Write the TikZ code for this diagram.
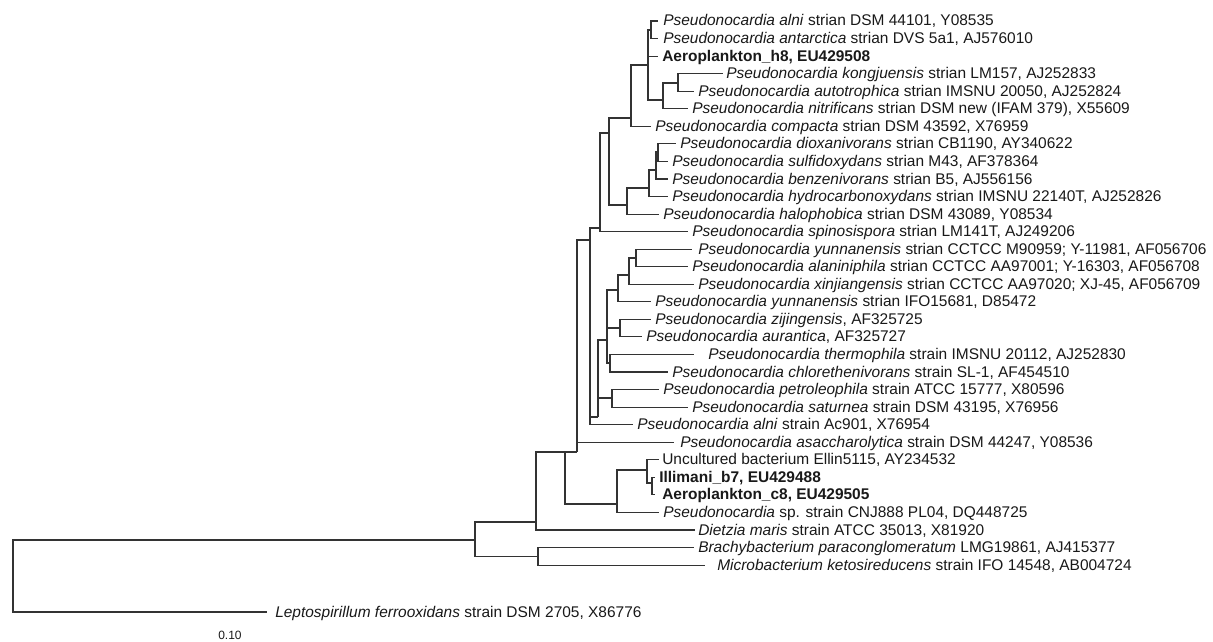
\documentclass[tikz,border=0pt]{standalone}
\usepackage{fontspec}
\setmainfont{Liberation Sans}
\newcommand{\lf}[5]{\coordinate (#1) at (#2,#4); \node[lab] (#1l) at (#3,#4+5) {#5};}
\begin{document}
\begin{tikzpicture}[x=0.75pt,y=-0.75pt,
  br/.style={draw=black!80, line width=0.8pt},
  lab/.style={anchor=base west, inner sep=0pt, text=black!90, font=\fontsize{11.6}{13}\selectfont}]
\useasboundingbox[fill=white] (0,0) rectangle (1213,642);
% leaves
\lf{t0}{658}{663}{21.0}{\textit{Pseudonocardia alni} strian DSM 44101, Y08535}
\lf{t1}{658}{663}{38.6}{\textit{Pseudonocardia antarctica} strian DVS 5a1, AJ576010}
\lf{t2}{658}{662}{56.1}{\textbf{Aeroplankton\_h8, EU429508}}
\lf{t3}{723}{726}{73.7}{\textit{Pseudonocardia kongjuensis} strian LM157, AJ252833}
\lf{t4}{694}{698}{91.2}{\textit{Pseudonocardia autotrophica} strian IMSNU 20050, AJ252824}
\lf{t5}{688}{692}{108.8}{\textit{Pseudonocardia nitrificans} strian DSM new (IFAM 379), X55609}
\lf{t6}{651}{655}{126.3}{\textit{Pseudonocardia compacta} strian DSM 43592, X76959}
\lf{t7}{676}{680}{143.9}{\textit{Pseudonocardia dioxanivorans} strian CB1190, AY340622}
\lf{t8}{668}{672}{161.4}{\textit{Pseudonocardia sulfidoxydans} strian M43, AF378364}
\lf{t9}{668}{672}{179.0}{\textit{Pseudonocardia benzenivorans} strian B5, AJ556156}
\lf{t10}{668}{672}{196.5}{\textit{Pseudonocardia hydrocarbonoxydans} strian IMSNU 22140T, AJ252826}
\lf{t11}{659}{663}{214.1}{\textit{Pseudonocardia halophobica} strian DSM 43089, Y08534}
\lf{t12}{688}{692}{231.6}{\textit{Pseudonocardia spinosispora} strian LM141T, AJ249206}
\lf{t13}{692}{698}{249.2}{\textit{Pseudonocardia yunnanensis} strian CCTCC M90959; Y-11981, AF056706}
\lf{t14}{688}{692}{266.7}{\textit{Pseudonocardia alaniniphila} strian CCTCC AA97001; Y-16303, AF056708}
\lf{t15}{694}{698}{284.3}{\textit{Pseudonocardia xinjiangensis} strian CCTCC AA97020; XJ-45, AF056709}
\lf{t16}{651}{655}{301.8}{\textit{Pseudonocardia yunnanensis} strian IFO15681, D85472}
\lf{t17}{651}{655}{319.4}{\textit{Pseudonocardia zijingensis}, AF325725}
\lf{t18}{642}{646}{336.9}{\textit{Pseudonocardia aurantica}, AF325727}
\lf{t19}{694}{708}{354.5}{\textit{Pseudonocardia thermophila} strain IMSNU 20112, AJ252830}
\lf{t20}{668}{672}{372.0}{\textit{Pseudonocardia chlorethenivorans} strain SL-1, AF454510}
\lf{t21}{659}{663}{389.6}{\textit{Pseudonocardia petroleophila} strain ATCC 15777, X80596}
\lf{t22}{688}{692}{407.1}{\textit{Pseudonocardia saturnea} strain DSM 43195, X76956}
\lf{t23}{633}{637}{424.7}{\textit{Pseudonocardia alni} strain Ac901, X76954}
\lf{t24}{674}{680}{442.2}{\textit{Pseudonocardia asaccharolytica} strain DSM 44247, Y08536}
\lf{t25}{659}{662}{459.8}{Uncultured bacterium Ellin5115, AY234532}
\lf{t26}{655}{659}{477.3}{\textbf{Illimani\_b7, EU429488}}
\lf{t27}{655}{662}{494.9}{\textbf{Aeroplankton\_c8, EU429505}}
\lf{t28}{659}{663}{512.4}{\textit{Pseudonocardia} sp. strain CNJ888 PL04, DQ448725}
\lf{t29}{695}{698}{530.0}{\textit{Dietzia maris} strain ATCC 35013, X81920}
\lf{t30}{694}{698}{547.5}{\textit{Brachybacterium paraconglomeratum} LMG19861, AJ415377}
\lf{t31}{705}{717}{565.1}{\textit{Microbacterium ketosireducens} strain IFO 14548, AB004724}
\lf{tL}{267}{275}{612.0}{\textit{Leptospirillum ferrooxidans} strain DSM 2705, X86776}
\node[lab, font=\fontsize{9}{11}\selectfont] (scale) at (218,639) {0.10};
% internal nodes
\coordinate (root) at (13,576);
\coordinate (n475) at (475,540);
\coordinate (n538) at (538,556.3);
\coordinate (n536) at (536,522);
\coordinate (n565) at (565,452);
\coordinate (n617) at (617,504);
\coordinate (n647) at (647,470);
\coordinate (n652) at (652,483);
\coordinate (n577) at (577,452);
\coordinate (n590) at (590,240);
\coordinate (n600) at (600,228);
\coordinate (n609) at (609,133);
\coordinate (n631) at (631,118);
\coordinate (n648) at (648,65);
\coordinate (n651) at (651,30);
\coordinate (n663) at (663,100);
\coordinate (n678) at (678,83);
\coordinate (n627) at (627,205);
\coordinate (n649) at (649,188);
\coordinate (n656) at (656,170);
\coordinate (n658) at (658,152);
\coordinate (n598) at (598,417);
\coordinate (n612) at (612,398);
\coordinate (n607) at (607,340);
\coordinate (n610) at (610,363);
\coordinate (n620) at (620,328);
\coordinate (n618) at (618,290);
\coordinate (n629) at (629,275);
\coordinate (n636) at (636,258);
% connectors
\draw[br] (root) |- (n475);
\draw[br] (root) |- (tL);
\draw[br] (n475) |- (n536);
\draw[br] (n475) |- (n538);
\draw[br] (n538) |- (t30);
\draw[br] (n538) |- (t31);
\draw[br] (n536) |- (n565);
\draw[br] (n536) |- (t29);
\draw[br] (n565) |- (n577);
\draw[br] (n565) |- (n617);
\draw[br] (n617) |- (n647);
\draw[br] (n617) |- (t28);
\draw[br] (n647) |- (t25);
\draw[br] (n647) |- (n652);
\draw[br] (n652) |- (t26);
\draw[br] (n652) |- (t27);
\draw[br] (n577) |- (n590);
\draw[br] (n577) |- (t24);
\draw[br] (n590) |- (n600);
\draw[br] (n590) |- (n598);
\draw[br] (n590) |- (t23);
\draw[br] (n600) |- (n609);
\draw[br] (n600) |- (t12);
\draw[br] (n609) |- (n631);
\draw[br] (n609) |- (n627);
\draw[br] (n631) |- (n648);
\draw[br] (n631) |- (t6);
\draw[br] (n648) |- (n651);
\draw[br] (n648) |- (t2);
\draw[br] (n648) |- (n663);
\draw[br] (n651) |- (t0);
\draw[br] (n651) |- (t1);
\draw[br] (n663) |- (n678);
\draw[br] (n663) |- (t5);
\draw[br] (n678) |- (t3);
\draw[br] (n678) |- (t4);
\draw[br] (n627) |- (n649);
\draw[br] (n627) |- (t11);
\draw[br] (n649) |- (n656);
\draw[br] (n649) |- (t10);
\draw[br] (n656) |- (n658);
\draw[br] (n656) |- (t9);
\draw[br] (n658) |- (t7);
\draw[br] (n658) |- (t8);
\draw[br] (n598) |- (n607);
\draw[br] (n598) |- (n612);
\draw[br] (n612) |- (t21);
\draw[br] (n612) |- (t22);
\draw[br] (n607) |- (n618);
\draw[br] (n607) |- (n620);
\draw[br] (n607) |- (n610);
\draw[br] (n610) |- (t19);
\draw[br] (n610) |- (t20);
\draw[br] (n620) |- (t17);
\draw[br] (n620) |- (t18);
\draw[br] (n618) |- (n629);
\draw[br] (n618) |- (t16);
\draw[br] (n629) |- (n636);
\draw[br] (n629) |- (t15);
\draw[br] (n636) |- (t13);
\draw[br] (n636) |- (t14);
\end{tikzpicture}
\end{document}
